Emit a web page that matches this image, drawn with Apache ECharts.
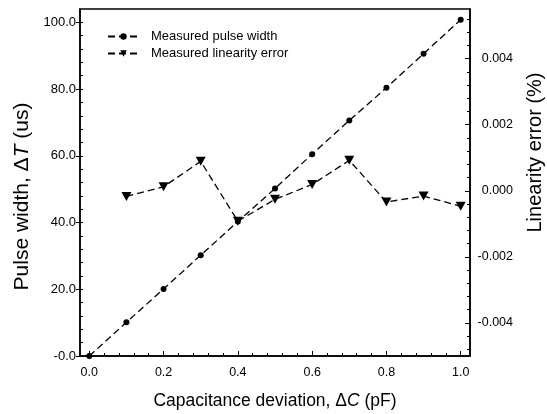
<!DOCTYPE html>
<html><head><meta charset="utf-8">
<script src="https://cdn.jsdelivr.net/npm/echarts@6/dist/echarts.min.js"></script>
<style>html,body{margin:0;padding:0;background:#fff}#c{width:547px;height:414px}</style>
</head><body><div id="c"></div>
<script>
// Data
const capDev = [0.0, 0.1, 0.2, 0.3, 0.4, 0.5, 0.6, 0.7, 0.8, 0.9, 1.0];
const pulseWidth = [0.0, 10.1, 20.1, 30.2, 40.3, 50.2, 60.5, 70.6, 80.4, 90.6, 100.8];
const errCapDev = [0.1, 0.2, 0.3, 0.4, 0.5, 0.6, 0.7, 0.8, 0.9, 1.0];
const linearityError = [-0.00017, 0.00012, 0.00089, -0.00092, -0.00026, 0.00019, 0.00092, -0.00034, -0.00016, -0.00047];

// Tick values
const xMajorTicks = [0.0, 0.2, 0.4, 0.6, 0.8, 1.0];
const xMinorTicks = [0, 0.04, 0.08, 0.12, 0.16, 0.2, 0.24, 0.28, 0.32, 0.36, 0.4, 0.44, 0.48, 0.52, 0.56, 0.6, 0.64, 0.68, 0.72, 0.76, 0.8, 0.84, 0.88, 0.92, 0.96, 1.0];
const leftMajorTicks = [0, 20, 40, 60, 80, 100];
const leftMinorTicks = [0, 4, 8, 12, 16, 20, 24, 28, 32, 36, 40, 44, 48, 52, 56, 60, 64, 68, 72, 76, 80, 84, 88, 92, 96, 100];
const rightMajorTicks = [-0.004, -0.002, 0.0, 0.002, 0.004];
const rightMinorTicks = [-0.0048, -0.0044, -0.004, -0.0036, -0.0032, -0.0028, -0.0024, -0.002, -0.0016, -0.0012, -0.0008, -0.0004, 0, 0.0004, 0.0008, 0.0012, 0.0016, 0.002, 0.0024, 0.0028, 0.0032, 0.0036, 0.004, 0.0044, 0.0048, 0.0052];

const FONT = 'Liberation Sans, Arial, sans-serif';
const BLACK = '#000';

const chart = echarts.init(document.getElementById('c'), null, {renderer: 'canvas'});

function richName(fs, padding) {
  return {
    fontSize: fs, fontFamily: FONT, color: BLACK, padding: padding || 0,
    rich: {
      n: {fontSize: fs, fontFamily: FONT, color: BLACK},
      i: {fontSize: fs, fontFamily: FONT, color: BLACK, fontStyle: 'italic'}
    }
  };
}

const lineW = 1.5;
const TICKFS = 12.5;

const option = {
  animation: false,
  backgroundColor: '#fff',
  grid: {left: 80, right: 77, top: 9, bottom: 58, show: true, borderColor: BLACK, borderWidth: lineW, containLabel: false, outerBoundsMode: 'none'},
  legend: {
    orient: 'vertical', left: 102, top: 25, itemWidth: 31, itemHeight: 8, itemGap: 4,
    textStyle: {fontSize: 13, fontFamily: FONT, color: BLACK, padding: [0, 0, 0, 7]},
    data: ['Measured pulse width', 'Measured linearity error']
  },
  xAxis: [
    {
      type: 'value', min: -0.025, max: 1.025, position: 'bottom',
      name: '{n|Capacitance deviation, Δ}{i|C}{n| (pF)}',
      nameLocation: 'middle', nameGap: 36, nameTextStyle: richName(17.5),
      axisLine: {show: true, onZero: false, lineStyle: {color: BLACK, width: lineW}},
      axisTick: {show: true, inside: true, length: 5, customValues: xMajorTicks, lineStyle: {color: BLACK, width: 1}},
      axisLabel: {customValues: xMajorTicks, formatter: v => v.toFixed(1), fontSize: TICKFS, fontFamily: FONT, color: BLACK, margin: 10},
      splitLine: {show: false}
    },
    {
      type: 'value', min: -0.025, max: 1.025, position: 'bottom',
      axisLine: {show: false, onZero: false}, splitLine: {show: false},
      axisLabel: {show: false},
      axisTick: {show: true, inside: true, length: 3, customValues: xMinorTicks, lineStyle: {color: BLACK, width: 1}}
    }
  ],
  yAxis: [
    {
      type: 'value', min: 0, max: 104, position: 'left',
      name: '{n|Pulse width, Δ}{i|T}{n| (us)}',
      nameLocation: 'middle', nameGap: 47, nameTextStyle: richName(21, [0, 28, 0, 0]),
      axisLine: {show: true, onZero: false, lineStyle: {color: BLACK, width: lineW}},
      axisTick: {show: true, inside: false, length: 4, customValues: leftMajorTicks, lineStyle: {color: BLACK, width: 1}},
      axisLabel: {customValues: leftMajorTicks, formatter: v => (v === 0 ? '-0.0' : v.toFixed(1)), fontSize: 13, fontFamily: FONT, color: BLACK, margin: 4},
      splitLine: {show: false}
    },
    {
      type: 'value', min: 0, max: 104, position: 'left',
      axisLine: {show: false, onZero: false}, splitLine: {show: false}, axisLabel: {show: false},
      axisTick: {show: true, inside: true, length: 3, customValues: leftMinorTicks, lineStyle: {color: BLACK, width: 1}}
    },
    {
      type: 'value', min: -0.005, max: 0.0055, position: 'right',
      name: 'Linearity error (%)',
      nameLocation: 'middle', nameGap: 55, nameTextStyle: {fontSize: 20, fontFamily: FONT, color: BLACK, padding: [0, 0, 0, 60]},
      axisLine: {show: true, onZero: false, lineStyle: {color: BLACK, width: lineW}},
      axisTick: {show: true, inside: true, length: 5, customValues: rightMajorTicks, lineStyle: {color: BLACK, width: 1}},
      axisLabel: {customValues: rightMajorTicks, formatter: v => v.toFixed(3), fontSize: TICKFS, fontFamily: FONT, color: BLACK, margin: 43, align: 'right'},
      splitLine: {show: false}
    },
    {
      type: 'value', min: -0.005, max: 0.0055, position: 'right',
      axisLine: {show: false, onZero: false}, splitLine: {show: false}, axisLabel: {show: false},
      axisTick: {show: true, inside: true, length: 3, customValues: rightMinorTicks, lineStyle: {color: BLACK, width: 1}}
    }
  ],
  series: [
    {
      name: 'Measured pulse width', type: 'line', xAxisIndex: 0, yAxisIndex: 0,
      data: capDev.map((x, i) => [x, pulseWidth[i]]),
      symbol: 'circle', symbolSize: 6, clip: false,
      lineStyle: {color: BLACK, width: 1.3, type: [7, 4]},
      itemStyle: {color: BLACK}
    },
    {
      name: 'Measured linearity error', type: 'line', xAxisIndex: 0, yAxisIndex: 2,
      data: errCapDev.map((x, i) => [x, linearityError[i]]),
      symbol: 'triangle', symbolRotate: 180, symbolSize: [10, 9], clip: false,
      lineStyle: {color: BLACK, width: 1.3, type: [7, 4]},
      itemStyle: {color: BLACK}
    }
  ]
};
chart.setOption(option);
</script>
</body></html>
